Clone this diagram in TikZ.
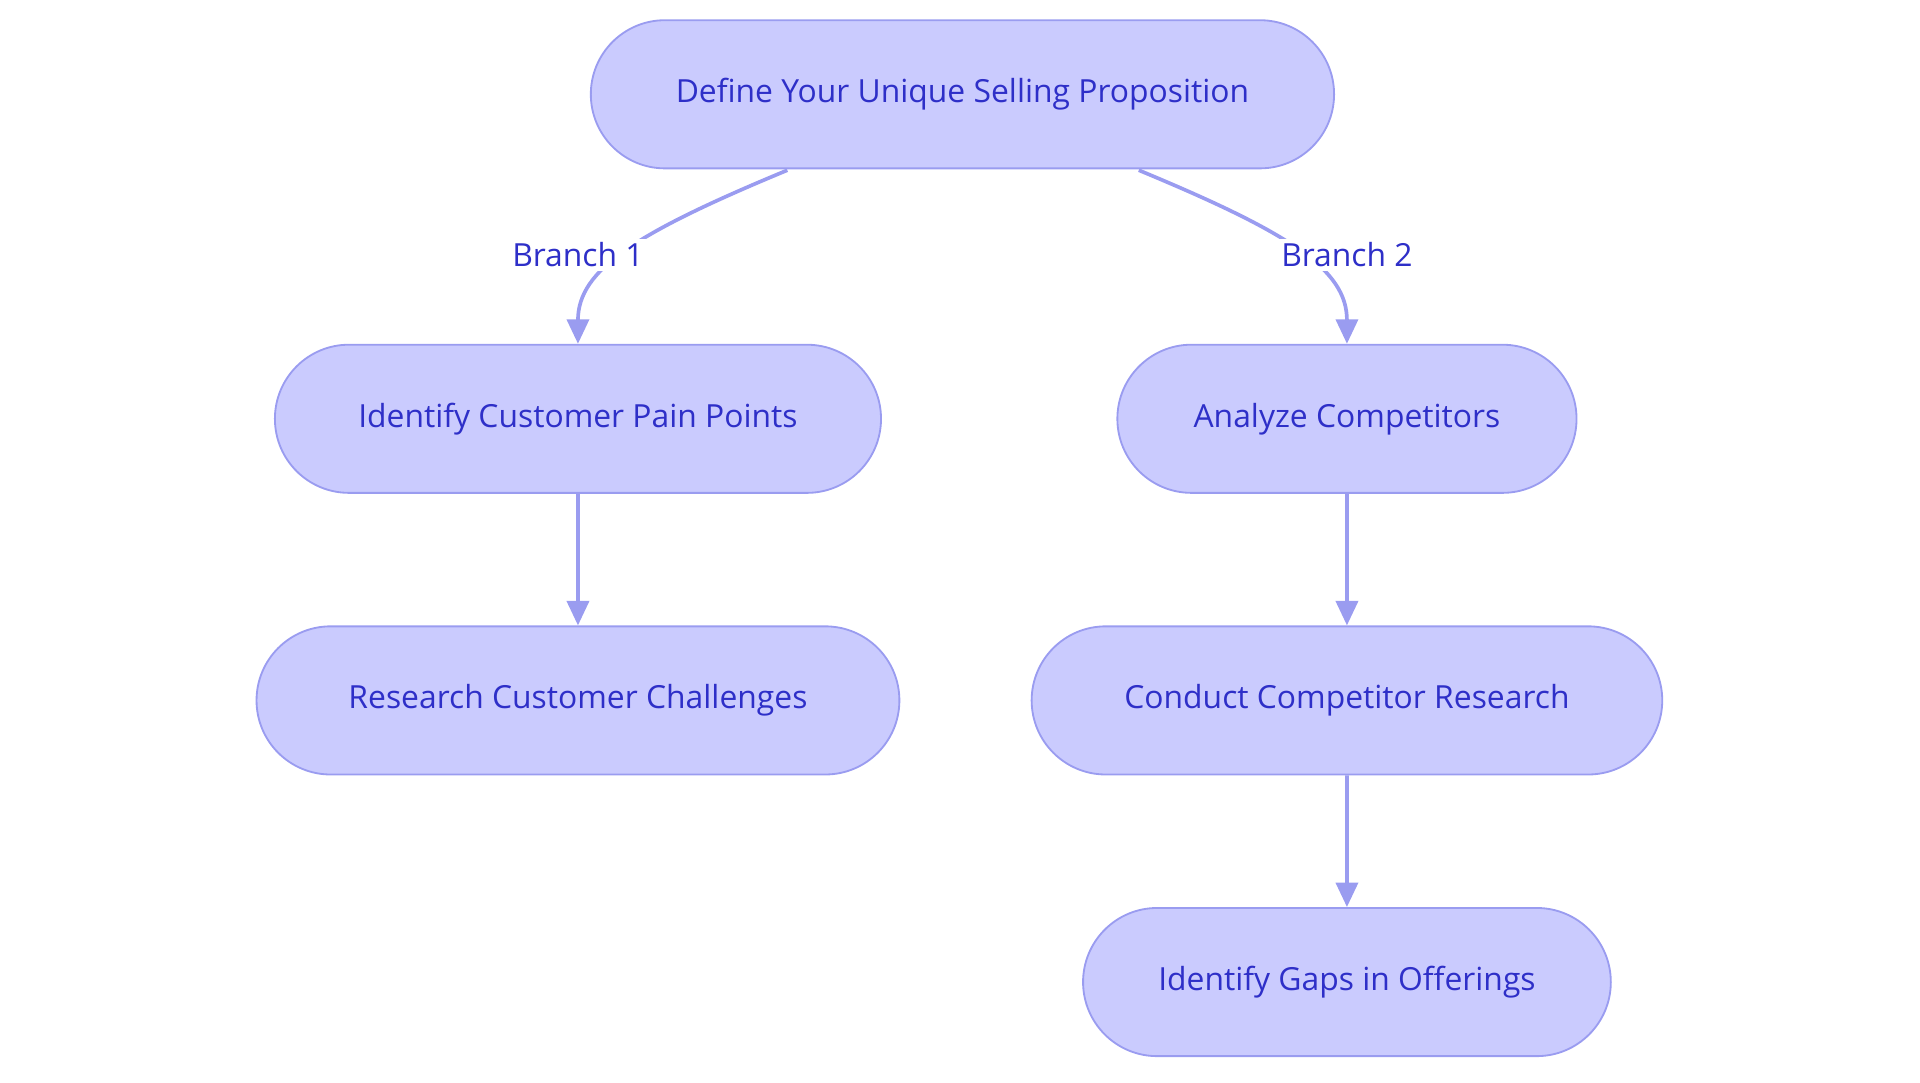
\documentclass[tikz,border=0pt]{standalone}
\usepackage{fontspec}
\setmainfont{Open Sans}
\usetikzlibrary{arrows.meta}
\definecolor{nfill}{HTML}{CACBFE}
\definecolor{nline}{HTML}{9A9CF0}
\definecolor{ntext}{HTML}{2E2FC8}
\begin{document}
\begin{tikzpicture}[x=1pt,y=-1pt,
  box/.style={rounded rectangle,draw=nline,fill=nfill,line width=1.5pt,text=ntext,minimum height=121pt,font=\fontsize{26}{32}\selectfont,inner sep=0pt},
  lab/.style={fill=white,text=ntext,font=\fontsize{26}{32}\selectfont,inner sep=3pt},
  arr/.style={draw=nline,line width=3pt,-{Triangle[length=20pt,width=18pt]}}]
\usetikzlibrary{shapes.misc}
\useasboundingbox (0,0) rectangle (1568,884);
\node[box,minimum width=607pt] (top) at (786,77) {Define Your Unique Selling Proposition};
\node[box,minimum width=495pt] (pain) at (472,342) {Identify Customer Pain Points};
\node[box,minimum width=525pt] (res) at (472,572) {Research Customer Challenges};
\node[box,minimum width=375pt] (ana) at (1100,342) {Analyze Competitors};
\node[box,minimum width=515pt] (con) at (1100,572) {Conduct Competitor Research};
\node[box,minimum width=431pt] (gap) at (1100,802) {Identify Gaps in Offerings};
\coordinate (s1) at (643,139);
\coordinate (s2) at (930,139);
\draw[arr] (s1) .. controls (520,190) and (472,220) .. (pain.north);
\draw[arr] (s2) .. controls (1053,190) and (1100,220) .. (ana.north);
\node[lab] (b1) at (472,208) {Branch 1};
\node[lab] (b2) at (1100,208) {Branch 2};
\draw[arr] (pain) -- (res);
\draw[arr] (ana) -- (con);
\draw[arr] (con) -- (gap);
\end{tikzpicture}
\end{document}
